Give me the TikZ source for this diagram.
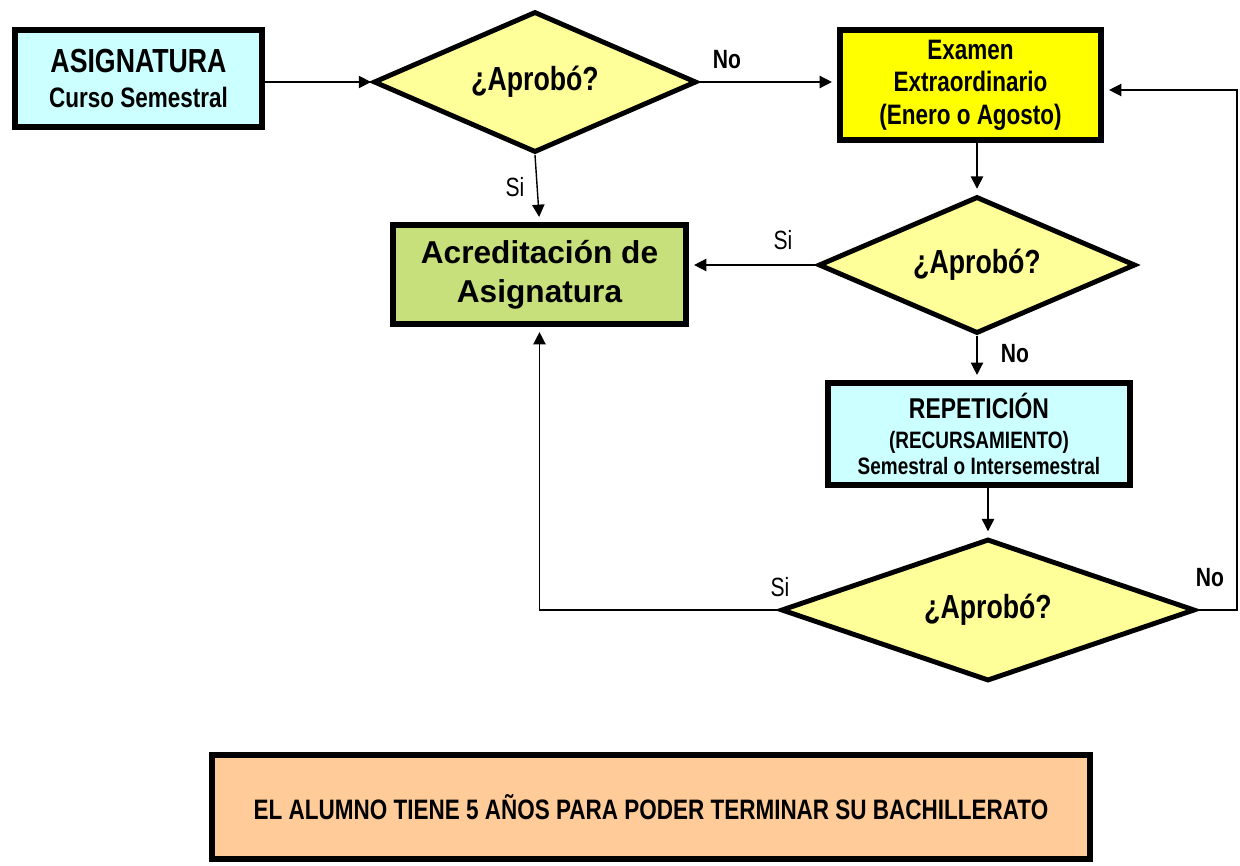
\documentclass[tikz,border=0pt]{standalone}
\usepackage{fontspec}
\setmainfont{Liberation Sans}
\newfontfamily\narrowfont[FakeStretch=0.8]{Liberation Sans}
\usetikzlibrary{arrows.meta, positioning, shapes.geometric}

\definecolor{celeste}{RGB}{204,255,255}
\definecolor{amarillo}{RGB}{255,255,0}
\definecolor{amarilloclaro}{RGB}{255,255,153}
\definecolor{verde}{RGB}{200,224,124}
\definecolor{durazno}{RGB}{255,204,153}

\tikzset{
  caja/.style={draw, line width=3.2pt, rectangle, inner sep=2pt, align=center},
  pregunta/.style={draw, line width=2.8pt, diamond, shape aspect=2.6, inner sep=0pt,
    fill=amarilloclaro, font=\narrowfont\bfseries\fontsize{19}{22}\selectfont},
  flecha/.style={-{Triangle[length=7pt,width=7pt]}, line width=0.8pt, shorten >=3pt},
  etiq/.style={font=\narrowfont\fontsize{15}{17}\selectfont},
  etiqno/.style={etiq, font=\narrowfont\bfseries\fontsize{15}{17}\selectfont}
}

\begin{document}
\begin{tikzpicture}[x=0.02cm,y=-0.02cm]
  \useasboundingbox (0,0) rectangle (1240,865);

  % cajas
  \node[caja, fill=celeste, minimum width=4.94cm, minimum height=1.94cm,
    font=\narrowfont\bfseries\fontsize{16}{20}\selectfont] (asig) at (138.5,78.5)
    {{\fontsize{19}{20}\selectfont ASIGNATURA}\\Curso Semestral};
  \node[caja, fill=amarillo, minimum width=5.22cm, minimum height=2.2cm,
    font=\narrowfont\bfseries\fontsize{16}{18.5}\selectfont] (exam) at (970.5,85)
    {Examen\\Extraordinario\\(Enero o Agosto)};
  \node[caja, fill=verde, minimum width=5.86cm, minimum height=1.98cm,
    font=\bfseries\fontsize{18}{22}\selectfont] (acred) at (539.5,274.5)
    {Acreditación de\\Asignatura};
  \node[caja, fill=celeste, minimum width=6.04cm, minimum height=2.04cm,
    font=\narrowfont\bfseries\fontsize{13.5}{15}\selectfont] (rep) at (979,434)
    {{\fontsize{16.3}{17}\selectfont REPETICIÓN}\\[2pt]
     (RECURSAMIENTO)\\
     Semestral o Intersemestral};
  \node[caja, fill=durazno, minimum width=17.56cm, minimum height=2.08cm,
    font=\narrowfont\bfseries\fontsize{16}{18}\selectfont] (nota) at (651,807)
    {EL ALUMNO TIENE 5 AÑOS PARA PODER TERMINAR SU BACHILLERATO};

  % decisiones
  \node[pregunta, minimum width=6.46cm, minimum height=2.82cm] (dec1) at (535,82) {¿Aprobó?};
  \node[pregunta, minimum width=6.34cm, minimum height=2.74cm] (dec2) at (977,265) {¿Aprobó?};
  \node[pregunta, minimum width=8.28cm, minimum height=2.84cm] (dec3) at (988,610) {¿Aprobó?};

  \coordinate (regreso) at (1237,90);

  % flechas
  \draw[flecha, shorten >=0pt] (asig.east |- dec1.west) -- (dec1.west);
  \draw[flecha] (dec1.east) -- (dec1.east -| exam.west);
  \draw[flecha] (dec1.south) -- (acred.north);
  \draw[flecha] (dec2.north |- exam.south) -- (dec2.north);
  \draw[flecha] (dec2.west) -- (dec2.west -| acred.east);
  \draw[flecha] (dec2.south) -- (dec2.south |- rep.north);
  \draw[flecha] (rep.south -| dec3.north) -- (dec3.north);
  \draw[flecha] (dec3.west) -| (acred.south);
  \draw[flecha] (dec3.east) -| (regreso) -- (regreso -| exam.east);

  % etiquetas
  \node[etiqno] (no1) at (727,60) {No};
  \node[etiq] (si1) at (515,187) {Si};
  \node[etiq] (si2) at (783,240) {Si};
  \node[etiqno] (no2) at (1015,354) {No};
  \node[etiq] (si3) at (780,587) {Si};
  \node[etiqno] (no3) at (1210,578) {No};
\end{tikzpicture}
\end{document}
